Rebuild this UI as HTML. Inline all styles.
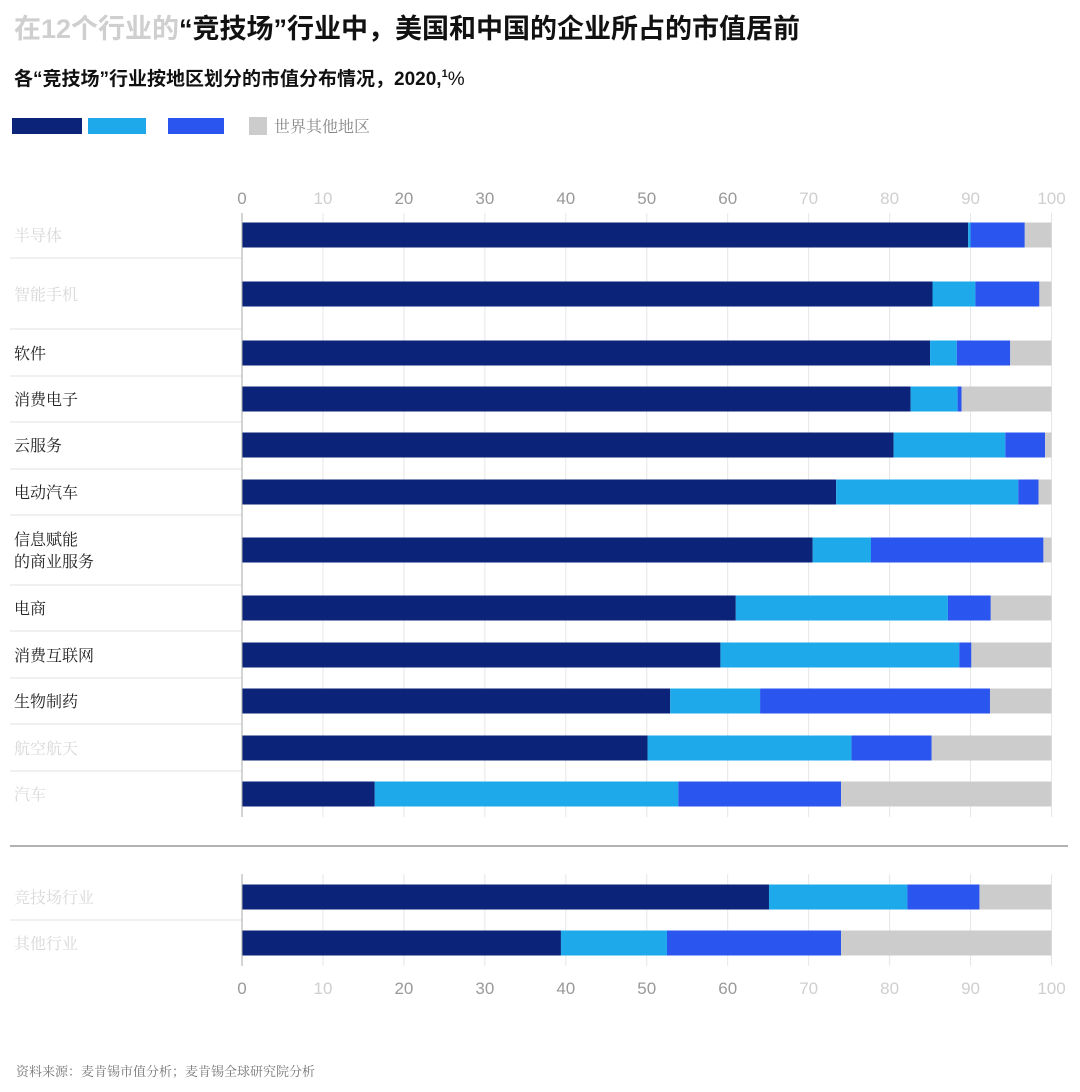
<!DOCTYPE html>
<html><head><meta charset="utf-8">
<style>
body{margin:0;background:#fff;width:1080px;height:1087px;overflow:hidden;font-family:"Liberation Sans","Noto Sans CJK SC",sans-serif;}
svg text{font-family:"Liberation Sans","Noto Sans CJK SC",sans-serif;}
.lbl{font-family:"Liberation Serif","Noto Serif CJK SC",serif;font-size:16px;fill:#222;}
.faint{fill:#d8d8d8;}
</style></head>
<body>
<svg id="chart" width="1080" height="1087" xmlns="http://www.w3.org/2000/svg">
<text x="14" y="38" font-size="27" font-weight="bold" fill="#111"><tspan fill="#cfcfcf">在12个行业的</tspan><tspan>“竞技场”行业中，美国和中国的企业所占的市值居前</tspan></text>
<text x="14" y="85" font-size="19" font-weight="bold" fill="#111">各“竞技场”行业按地区划分的市值分布情况，2020,<tspan font-size="11" dy="-8">1</tspan><tspan dy="8" font-weight="normal">%</tspan></text>
<g>
<rect x="12" y="118" width="70" height="16" fill="#0b2379"/>
<rect x="88" y="118" width="58" height="16" fill="#1ea9ea"/>
<rect x="168" y="118" width="56" height="16" fill="#2a55ee"/>
<rect x="249" y="117" width="18" height="18" fill="#cccccc"/>
<text x="274" y="132" class="lbl" fill="#888" style="fill:#888">世界其他地区</text>
</g>
<g id="plot"></g>
<text x="16" y="1076" font-size="13" fill="#777" style="font-family:'Liberation Serif','Noto Serif CJK SC',serif">资料来源：麦肯锡市值分析；麦肯锡全球研究院分析</text>
</svg>
<script>
const categories=["半导体","智能手机","软件","消费电子","云服务","电动汽车","信息赋能\n的商业服务","电商","消费互联网","生物制药","航空航天","汽车"];
const bottomCategories=["竞技场行业","其他行业"];
const usValues=[89.7,85.3,85.0,82.6,80.5,73.4,70.5,61.0,59.1,52.9,50.1,16.4];
const chinaValues=[0.3,5.3,3.3,5.8,13.8,22.5,7.2,26.2,29.5,11.1,25.2,37.5];
const europeValues=[6.7,7.9,6.6,0.5,4.9,2.5,21.3,5.3,1.5,28.4,9.9,20.1];
const bottomUs=[65.1,39.4];
const bottomChina=[17.1,13.1];
const bottomEurope=[8.9,21.5];
const ticks=[0,10,20,30,40,50,60,70,80,90,100];
const faintTicks=[10,70,80,90,100];
const colors=["#0b2379","#1ea9ea","#2a55ee","#cccccc"];
const NS="http://www.w3.org/2000/svg";
const g=document.getElementById('plot');
const x0=242,xScale=v=>x0+v*8.095;
function el(t,a){const e=document.createElementNS(NS,t);for(const k in a)e.setAttribute(k,a[k]);g.appendChild(e);return e;}
const rowY=[235,294,353,399,445,492,550,608,655,701,748,794];
const bRowY=[897,943];
const faintLabels=[0,1,10,11];
// gridlines
ticks.forEach(t=>{
 if(t===0)return;
 let l=el('line',{x1:xScale(t),x2:xScale(t),y1:213,y2:817,stroke:'#e6e6e6'});
 
 
 let l2=el('line',{x1:xScale(t),x2:xScale(t),y1:874,y2:966,stroke:'#e6e6e6'});
 
 
});
// tick labels
ticks.forEach(t=>{
 const f=faintTicks.includes(t);
 [198,988].forEach((y,i)=>{
  let tx=el('text',{x:xScale(t),y:y+6,'text-anchor':'middle','font-size':17,fill:f?'#cfcfcf':'#999'});
  tx.textContent=t;
  
  
 });
});
// row separators
const seps=[258,329,376,422,469,515,585,631,678,724,771];
seps.forEach(y=>{let l=el('line',{x1:10,x2:242,y1:y,y2:y,stroke:'#e2e2e2'});
 
 });
let s2=el('line',{x1:10,x2:242,y1:920,y2:920,stroke:'#e2e2e2'});


let hr=el('line',{x1:10,x2:1068,y1:846,y2:846,stroke:'#999','stroke-width':1.5});


function drawBar(name,y,us,cn,eu){
 const vals=[us,cn,eu,100-us-cn-eu];let acc=0;
 vals.forEach((v,i)=>{
  const r=el('rect',{x:xScale(acc),y:y-12.5,width:Math.max(0,xScale(acc+v)-xScale(acc)),height:25,fill:colors[i]});
  
  
  acc+=v;
 });
}
function drawLabel(text,y,faint){
 const lines=text.split('\n');
 const t=el('text',{x:14,y:y+6-(lines.length-1)*11,class:'lbl'+(faint?' faint':'')});
 
 
 lines.forEach((ln,i)=>{const s=document.createElementNS(NS,'tspan');s.setAttribute('x',14);if(i)s.setAttribute('dy',22);s.textContent=ln;t.appendChild(s);});
}
categories.forEach((c,i)=>{drawBar('row'+i,rowY[i],usValues[i],chinaValues[i],europeValues[i]);drawLabel(c,rowY[i],faintLabels.includes(i));});
bottomCategories.forEach((c,i)=>{drawBar('bottom'+i,bRowY[i],bottomUs[i],bottomChina[i],bottomEurope[i]);drawLabel(c,bRowY[i],true);});
let a1=el('line',{x1:x0,x2:x0,y1:213,y2:817,stroke:'#aaa'});


let a2=el('line',{x1:x0,x2:x0,y1:874,y2:966,stroke:'#aaa'});


</script>
</body></html>
